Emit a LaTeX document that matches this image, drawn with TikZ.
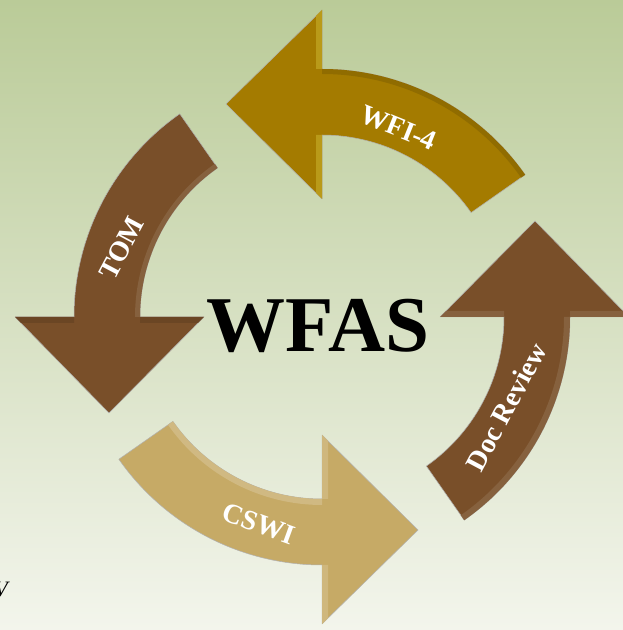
\documentclass[tikz,border=0pt]{standalone}
\usepackage{fontspec}
\setmainfont{Liberation Serif}
\usetikzlibrary{calc}
\definecolor{bgtop}{RGB}{186,203,152}
\definecolor{bgbot}{RGB}{243,245,236}
\definecolor{gold}{RGB}{164,123,0}
\definecolor{bark}{RGB}{121,79,41}
\definecolor{sand}{RGB}{198,170,102}
\tikzset{
    cyc/.style = {
        fill=#1, draw=black!30, line width=0.5pt, line join=round
    },
    lab/.style = {
        text=white, inner sep=0,
        font=\bfseries\fontsize{28}{28}\selectfont
    },
    hub/.style = {
        inner sep=0,
        font=\bfseries\fontsize{79}{79}\selectfont
    }
}
\newcommand{\Rout}{248}
\newcommand{\Rin}{182}
\newcommand{\Rmid}{213}
\newcommand{\Hout}{307}
\newcommand{\Hin}{118}
\newcommand{\Tip}{96}

\begin{document}
\begin{tikzpicture}[x=1pt,y=1pt]

% 1. background
\shade[top color=bgtop, bottom color=bgbot] (0,0) rectangle (623,630);
\useasboundingbox (0,0) rectangle (623,630);
\clip (0,0) rectangle (623,630);
\coordinate (c) at (322,313);

% 2. the four arrows -- same shape, turned by 90 degrees
\foreach \ang/\col/\bev/\ra/\rb/\bnd in {
    0/gold/gold!85!yellow!90!white/243/\Rout/gold!88!black,
    90/bark/bark!88!black/\Rin/187/bark!90!white,
    180/sand/sand!85!white/\Rin/188/sand!82!white,
    270/bark/bark!90!white/242/\Rout/bark!90!white} {
  \begin{scope}[shift={(c)}, rotate=\ang]
    \filldraw[cyc=\col] (35:\Rout) arc[start angle=35, end angle=90, radius=\Rout]
      -- (0,\Hout) -- (-\Tip,\Rmid) -- (0,\Hin) -- (0,\Rin)
      arc[start angle=90, end angle=35, radius=\Rin] -- cycle;
    \fill[\bnd] (35:\ra) arc[start angle=35, end angle=90, radius=\ra]
      -- (0,\rb) arc[start angle=90, end angle=35, radius=\rb] -- cycle;
    \fill[\bev] (0,\Hout) -- (-6,\Hout-6) -- (-6,\Rout) -- (0,\Rout) -- cycle;
    \fill[\bev] (0,\Hin) -- (-6,\Hin+6) -- (-6,\Rin) -- (0,\Rin) -- cycle;
  \end{scope}
}

% 3. labels
\node[lab, rotate=-22] (wfi)  at ($(c)+(68:204)$)   {WFI-4};
\node[lab, rotate=62]  (tom)  at ($(c)+(161:212)$)  {TOM};
\node[lab, rotate=-20] (cswi) at ($(c)+(-107:216)$) {CSWI};
\node[lab, rotate=62]  (doc)  at ($(c)+(-26:205)$)  {Doc Review};
\node[hub, anchor=base] (wfas) at (318,278) {WFAS};
\node[inner sep=0, anchor=base east, font=\itshape\fontsize{22}{22}\selectfont]
  (cut) at (8,33) {V};

\end{tikzpicture}
\end{document}
